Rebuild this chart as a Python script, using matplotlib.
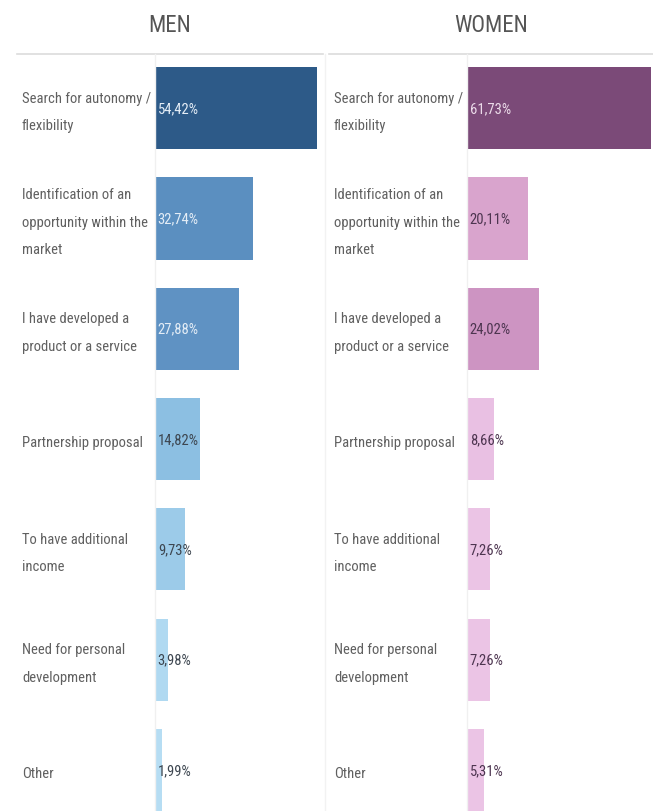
"""
Reasons for starting a business, men vs women (horizontal bars)
"""

import matplotlib
matplotlib.use("Agg")
import matplotlib.pyplot as plt
from matplotlib.transforms import blended_transform_factory

categories = [
    "Search for autonomy /\nflexibility",
    "Identification of an\nopportunity within the\nmarket",
    "I have developed a\nproduct or a service",
    "Partnership proposal",
    "To have additional\nincome",
    "Need for personal\ndevelopment",
    "Other",
]
men_values = [54.42, 32.74, 27.88, 14.82, 9.73, 3.98, 1.99]
women_values = [61.73, 20.11, 24.02, 8.66, 7.26, 7.26, 5.31]

men_colors = ["#2d5a88", "#5b8fc0", "#5f92c3", "#8cbfe2", "#9ccbe9", "#b0d9f1", "#b6ddf3"]
women_colors = ["#7b4a78", "#d9a4cd", "#cd94c2", "#e9c0e3", "#ebc4e5", "#ebc4e5", "#ebc4e5"]
men_text = ["#e4edf6", "#e4edf6", "#e4edf6", "#3d4650", "#3d4650", "#3d4650", "#3d4650"]
women_text = ["#ecdcea", "#4d3550", "#4d3550", "#4d3550", "#4d3550", "#4d3550", "#4d3550"]

plt.rcParams["font.family"] = ["Roboto Condensed", "PT Sans Narrow", "DejaVu Sans"]

W, H = 653, 812
fig = plt.figure(figsize=(W / 100, H / 100), dpi=100)

TOP = 55          # header rule, px from top
UNIT = 2.965      # px per percent point
LABEL_COLOR = "#606060"
RULE = "#dcdcdc"


def panel(title, values, colors, txt_colors, x_left, x_bar, x_right):
    width_px = x_right - x_bar
    ax = fig.add_axes([x_bar / W, 0, width_px / W, (H - TOP) / H])
    ax.set_xlim(0, width_px / UNIT)
    n = len(values)
    ax.set_ylim(6 + (H - 771) / 110, -(109 - TOP) / 110)
    ax.barh(range(n), values, height=0.745, color=colors)
    for i, v in enumerate(values):
        ax.text(0.6, i, f"{v:.2f}%".replace(".", ","), va="center", ha="left",
                fontsize=10.5, color=txt_colors[i])
    ax.set_xticks([])
    ax.set_yticks([])
    for s in ax.spines.values():
        s.set_visible(False)

    trans = blended_transform_factory(fig.transFigure, ax.transData)
    for i, c in enumerate(categories):
        fig.text(x_left / W, i + 0.03, c, transform=trans, va="center", ha="left",
                 fontsize=10.5, color=LABEL_COLOR, linespacing=2.25)

    # header rule and separators
    fig.add_artist(plt.Line2D([(x_left - 5) / W, x_right / W], [1 - TOP / H] * 2,
                              color=RULE, lw=1.2))
    fig.add_artist(plt.Line2D([(x_bar - 1) / W] * 2, [0, 1 - TOP / H],
                              color="#f0f0f0", lw=1))
    fig.text((x_left - 5 + x_right) / 2 / W, 1 - 26 / H, title, ha="center",
             va="center", fontsize=16.5, color="#555555")
    return ax


panel("MEN", men_values, men_colors, men_text, 22, 156, 323)
panel("WOMEN", women_values, women_colors, women_text, 334, 468, 653)
fig.add_artist(plt.Line2D([325 / W] * 2, [0, 1 - TOP / H], color="#f2f2f2", lw=1))

fig.savefig("out.png", dpi=100)
